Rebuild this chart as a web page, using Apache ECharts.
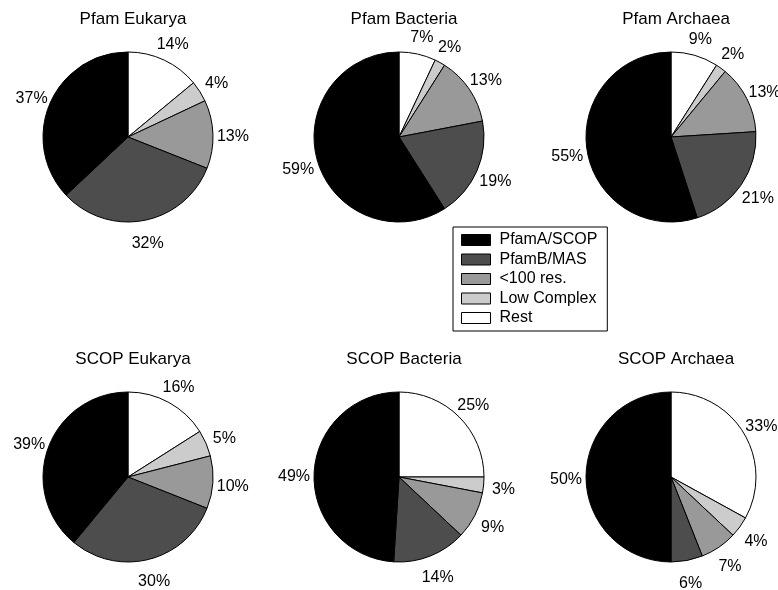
<!DOCTYPE html>
<html>
<head>
<meta charset="utf-8">
<script src="https://cdn.jsdelivr.net/npm/echarts@6/dist/echarts.min.js"></script>
<style>
  html, body { margin: 0; padding: 0; background: #fff; }
  #chart { width: 778px; height: 590px; }
</style>
</head>
<body>
<div id="chart"></div>
<script>
// Slice categories, in clockwise order from 12 o'clock
var categories = ['Rest', 'Low Complex', '<100 res.', 'PfamB/MAS', 'PfamA/SCOP'];
// Legend lists them the other way round
var legendOrder = ['PfamA/SCOP', 'PfamB/MAS', '<100 res.', 'Low Complex', 'Rest'];

// Percentage shares per panel (same order as categories)
var pfamEukarya  = [14, 4, 13, 32, 37];
var pfamBacteria = [7, 2, 13, 19, 59];
var pfamArchaea  = [9, 2, 13, 21, 55];
var scopEukarya  = [16, 5, 10, 30, 39];
var scopBacteria = [25, 3, 9, 14, 49];
var scopArchaea  = [33, 4, 7, 6, 50];

var panelTitles = ['Pfam Eukarya', 'Pfam Bacteria', 'Pfam Archaea',
                   'SCOP Eukarya', 'SCOP Bacteria', 'SCOP Archaea'];
var panelValues = [pfamEukarya, pfamBacteria, pfamArchaea,
                   scopEukarya, scopBacteria, scopArchaea];

// Layout and styling
var sliceColors = {
  'Rest': '#ffffff',
  'Low Complex': '#cccccc',
  '<100 res.': '#999999',
  'PfamB/MAS': '#4d4d4d',
  'PfamA/SCOP': '#000000'
};
var colX = [128, 399, 671];
var rowY = [137, 477];
var R = 85;
var FONT = '"Liberation Sans", Arial, Helvetica, sans-serif';

var series = [];
var titles = [];

panelValues.forEach(function (vals, i) {
  var cx = colX[i % 3];
  var cy = rowY[Math.floor(i / 3)];
  var data = categories.map(function (name, k) {
    return { name: name, value: vals[k], itemStyle: { color: sliceColors[name] } };
  });

  // The pie itself
  series.push({
    type: 'pie',
    center: [cx, cy],
    radius: [0, R],
    startAngle: 90,
    clockwise: true,
    animation: false,
    silent: true,
    label: { show: false },
    labelLine: { show: false },
    itemStyle: { borderColor: '#000', borderWidth: 1 },
    data: data
  });

  // Invisible ring carrying the percentage labels at 1.2 R
  series.push({
    type: 'pie',
    center: [cx, cy],
    radius: [R * 1.15, R * 1.25],
    startAngle: 90,
    clockwise: true,
    animation: false,
    silent: true,
    legendHoverLink: false,
    itemStyle: { color: 'rgba(0,0,0,0)', borderWidth: 0 },
    label: {
      show: true,
      position: 'inside',
      formatter: '{c}%',
      color: '#000',
      fontSize: 16,
      fontFamily: FONT,
      offset: [0, 3]
    },
    labelLine: { show: false },
    data: categories.map(function (name, k) { return { name: name, value: vals[k] }; })
  });

  titles.push({
    text: panelTitles[i],
    left: cx,
    top: cy - 131,
    textAlign: 'center',
    textStyle: { fontSize: 17, fontWeight: 'normal', color: '#000', fontFamily: FONT }
  });
});

var chart = echarts.init(document.getElementById('chart'), null, { renderer: 'canvas' });
chart.setOption({
  backgroundColor: '#fff',
  animation: false,
  title: titles,
  legend: {
    data: legendOrder,
    orient: 'vertical',
    left: 453,
    top: 227,
    padding: [5, 10, 5, 8],
    itemWidth: 29,
    itemHeight: 11,
    itemGap: 3.5,
    icon: 'rect',
    borderColor: '#000',
    borderWidth: 1,
    selectedMode: false,
    itemStyle: { borderColor: '#000', borderWidth: 1 },
    textStyle: { fontSize: 16, lineHeight: 16, color: '#000', fontFamily: FONT, padding: [0, 0, 0, 4] }
  },
  series: series
});
</script>
</body>
</html>
